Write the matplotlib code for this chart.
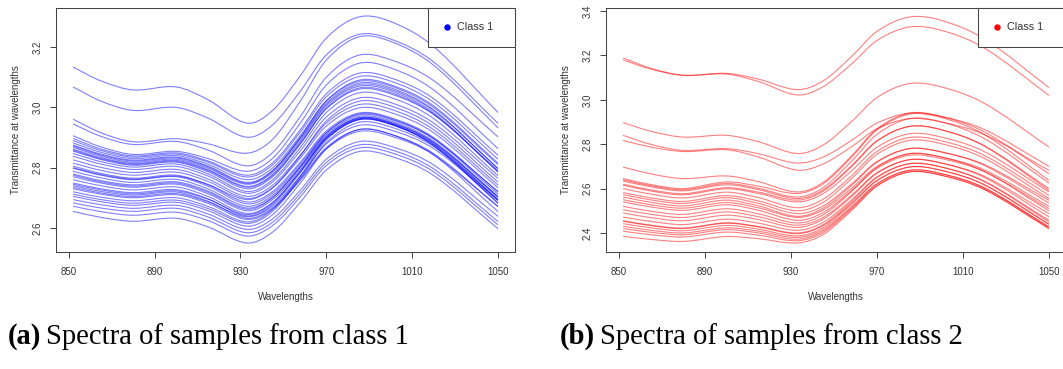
import matplotlib
matplotlib.use('Agg')
import matplotlib.pyplot as plt
from matplotlib.patches import Rectangle, PathPatch
from matplotlib.path import Path

wavelengths = [852, 865, 880, 900, 915, 933, 945, 958, 970, 985, 1000, 1020, 1050]

# class 1 spectra (left panel)
class1_spectra = [
    [3.134, 3.088, 3.058, 3.068, 3.025, 2.948, 2.990, 3.106, 3.230, 3.300, 3.285, 3.202, 2.983],
    [3.068, 3.021, 2.990, 3.000, 2.964, 2.901, 2.942, 3.055, 3.174, 3.242, 3.227, 3.151, 2.947],
    [2.961, 2.916, 2.886, 2.896, 2.879, 2.848, 2.894, 3.022, 3.157, 3.234, 3.219, 3.140, 2.932],
    [2.945, 2.904, 2.877, 2.887, 2.858, 2.806, 2.850, 2.971, 3.100, 3.173, 3.158, 3.089, 2.902],
    [2.906, 2.869, 2.844, 2.854, 2.830, 2.788, 2.831, 2.949, 3.074, 3.146, 3.131, 3.058, 2.863],
    [2.897, 2.862, 2.839, 2.849, 2.822, 2.775, 2.816, 2.927, 3.045, 3.113, 3.098, 3.029, 2.841],
    [2.890, 2.857, 2.835, 2.845, 2.818, 2.769, 2.809, 2.919, 3.035, 3.102, 3.087, 3.017, 2.828],
    [2.882, 2.851, 2.830, 2.840, 2.811, 2.760, 2.799, 2.907, 3.021, 3.086, 3.071, 3.000, 2.810],
    [2.875, 2.845, 2.825, 2.835, 2.805, 2.751, 2.791, 2.899, 3.014, 3.080, 3.065, 2.992, 2.797],
    [2.868, 2.838, 2.818, 2.828, 2.798, 2.745, 2.785, 2.894, 3.009, 3.075, 3.060, 2.989, 2.797],
    [2.862, 2.833, 2.814, 2.824, 2.793, 2.738, 2.778, 2.887, 3.004, 3.070, 3.055, 2.982, 2.786],
    [2.855, 2.827, 2.808, 2.818, 2.786, 2.730, 2.770, 2.880, 2.997, 3.064, 3.049, 2.978, 2.786],
    [2.847, 2.820, 2.802, 2.812, 2.779, 2.721, 2.760, 2.868, 2.983, 3.048, 3.033, 2.963, 2.773],
    [2.838, 2.812, 2.794, 2.804, 2.772, 2.715, 2.753, 2.857, 2.968, 3.031, 3.016, 2.948, 2.764],
    [2.826, 2.801, 2.784, 2.794, 2.762, 2.705, 2.742, 2.842, 2.948, 3.009, 2.994, 2.926, 2.742],
    [2.815, 2.791, 2.775, 2.785, 2.754, 2.698, 2.734, 2.833, 2.938, 2.998, 2.983, 2.916, 2.733],
    [2.805, 2.781, 2.765, 2.775, 2.743, 2.686, 2.721, 2.819, 2.922, 2.981, 2.966, 2.900, 2.720],
    [2.798, 2.775, 2.760, 2.770, 2.738, 2.680, 2.715, 2.813, 2.916, 2.975, 2.960, 2.896, 2.720],
    [2.788, 2.766, 2.751, 2.761, 2.729, 2.672, 2.708, 2.806, 2.910, 2.970, 2.955, 2.888, 2.704],
    [2.779, 2.757, 2.743, 2.753, 2.722, 2.666, 2.702, 2.801, 2.905, 2.965, 2.950, 2.884, 2.704],
    [2.770, 2.749, 2.735, 2.745, 2.713, 2.657, 2.694, 2.794, 2.901, 2.962, 2.947, 2.879, 2.693],
    [2.760, 2.740, 2.726, 2.736, 2.704, 2.648, 2.685, 2.788, 2.897, 2.959, 2.944, 2.877, 2.693],
    [2.749, 2.730, 2.717, 2.727, 2.696, 2.640, 2.678, 2.784, 2.895, 2.959, 2.944, 2.873, 2.682],
    [2.740, 2.721, 2.709, 2.719, 2.688, 2.632, 2.667, 2.764, 2.867, 2.926, 2.911, 2.847, 2.671],
    [2.730, 2.712, 2.700, 2.710, 2.681, 2.628, 2.663, 2.759, 2.862, 2.920, 2.905, 2.843, 2.671],
    [2.720, 2.702, 2.690, 2.700, 2.671, 2.620, 2.661, 2.773, 2.892, 2.960, 2.945, 2.874, 2.682],
    [2.712, 2.694, 2.682, 2.692, 2.664, 2.615, 2.655, 2.766, 2.883, 2.950, 2.935, 2.870, 2.693],
    [2.705, 2.687, 2.675, 2.685, 2.657, 2.606, 2.644, 2.750, 2.862, 2.926, 2.911, 2.842, 2.654],
    [2.694, 2.677, 2.665, 2.675, 2.646, 2.595, 2.630, 2.726, 2.828, 2.886, 2.871, 2.809, 2.638],
    [2.683, 2.666, 2.655, 2.665, 2.636, 2.584, 2.619, 2.715, 2.817, 2.875, 2.860, 2.796, 2.621],
    [2.672, 2.654, 2.642, 2.652, 2.624, 2.573, 2.608, 2.704, 2.807, 2.865, 2.850, 2.786, 2.610],
    [2.655, 2.635, 2.622, 2.632, 2.603, 2.550, 2.586, 2.686, 2.792, 2.853, 2.838, 2.774, 2.597],
    [2.872, 2.842, 2.822, 2.832, 2.802, 2.748, 2.789, 2.902, 3.022, 3.090, 3.075, 3.005, 2.815],
    [2.858, 2.830, 2.811, 2.821, 2.790, 2.735, 2.774, 2.881, 2.995, 3.060, 3.045, 2.976, 2.790],
    [2.775, 2.753, 2.739, 2.749, 2.718, 2.662, 2.700, 2.804, 2.915, 2.978, 2.963, 2.896, 2.712],
    [2.745, 2.726, 2.713, 2.723, 2.695, 2.644, 2.683, 2.789, 2.901, 2.965, 2.950, 2.883, 2.700],
    [2.800, 2.777, 2.762, 2.772, 2.744, 2.694, 2.733, 2.841, 2.955, 3.020, 3.005, 2.937, 2.752],
    [2.735, 2.716, 2.704, 2.714, 2.686, 2.637, 2.673, 2.773, 2.879, 2.940, 2.925, 2.863, 2.690],
]

# class 2 spectra (right panel)
class2_spectra = [
    [3.189, 3.142, 3.111, 3.119, 3.093, 3.046, 3.085, 3.193, 3.308, 3.373, 3.358, 3.274, 3.055],
    [3.180, 3.138, 3.110, 3.116, 3.082, 3.022, 3.059, 3.160, 3.267, 3.328, 3.313, 3.233, 3.020],
    [2.897, 2.858, 2.832, 2.840, 2.811, 2.758, 2.796, 2.900, 3.010, 3.073, 3.058, 2.984, 2.787],
    [2.840, 2.799, 2.772, 2.780, 2.757, 2.715, 2.742, 2.816, 2.895, 2.940, 2.925, 2.866, 2.700],
    [2.817, 2.787, 2.767, 2.775, 2.742, 2.683, 2.711, 2.787, 2.869, 2.915, 2.900, 2.843, 2.682],
    [2.697, 2.666, 2.645, 2.657, 2.631, 2.585, 2.628, 2.745, 2.869, 2.940, 2.925, 2.855, 2.667],
    [2.645, 2.618, 2.600, 2.630, 2.611, 2.578, 2.621, 2.739, 2.864, 2.935, 2.920, 2.843, 2.637],
    [2.640, 2.613, 2.595, 2.623, 2.601, 2.562, 2.604, 2.721, 2.844, 2.915, 2.900, 2.825, 2.625],
    [2.634, 2.608, 2.590, 2.617, 2.595, 2.555, 2.594, 2.701, 2.815, 2.880, 2.865, 2.791, 2.592],
    [2.615, 2.589, 2.572, 2.599, 2.578, 2.540, 2.577, 2.678, 2.786, 2.847, 2.832, 2.766, 2.585],
    [2.600, 2.575, 2.558, 2.584, 2.559, 2.514, 2.552, 2.656, 2.767, 2.830, 2.815, 2.749, 2.570],
    [2.582, 2.558, 2.542, 2.568, 2.544, 2.500, 2.538, 2.643, 2.754, 2.817, 2.802, 2.736, 2.555],
    [2.573, 2.549, 2.533, 2.559, 2.533, 2.487, 2.522, 2.619, 2.721, 2.780, 2.765, 2.708, 2.547],
    [2.562, 2.538, 2.522, 2.548, 2.522, 2.475, 2.512, 2.612, 2.719, 2.780, 2.765, 2.704, 2.535],
    [2.550, 2.527, 2.512, 2.537, 2.513, 2.470, 2.504, 2.599, 2.700, 2.757, 2.742, 2.684, 2.520],
    [2.540, 2.517, 2.502, 2.527, 2.502, 2.457, 2.492, 2.589, 2.691, 2.750, 2.735, 2.676, 2.510],
    [2.520, 2.498, 2.484, 2.509, 2.486, 2.445, 2.482, 2.585, 2.695, 2.757, 2.742, 2.677, 2.500],
    [2.505, 2.484, 2.470, 2.495, 2.473, 2.435, 2.470, 2.568, 2.671, 2.730, 2.715, 2.655, 2.487],
    [2.490, 2.469, 2.455, 2.480, 2.460, 2.425, 2.462, 2.562, 2.669, 2.730, 2.715, 2.650, 2.472],
    [2.472, 2.452, 2.438, 2.462, 2.444, 2.412, 2.448, 2.547, 2.652, 2.712, 2.697, 2.633, 2.457],
    [2.453, 2.433, 2.420, 2.444, 2.427, 2.397, 2.433, 2.532, 2.637, 2.697, 2.682, 2.617, 2.439],
    [2.442, 2.423, 2.410, 2.434, 2.417, 2.387, 2.424, 2.527, 2.635, 2.697, 2.682, 2.617, 2.439],
    [2.430, 2.412, 2.400, 2.423, 2.408, 2.380, 2.416, 2.516, 2.622, 2.682, 2.667, 2.603, 2.427],
    [2.420, 2.403, 2.392, 2.415, 2.400, 2.372, 2.409, 2.512, 2.620, 2.682, 2.667, 2.603, 2.427],
    [2.408, 2.392, 2.382, 2.404, 2.390, 2.365, 2.402, 2.505, 2.613, 2.675, 2.660, 2.596, 2.420],
    [2.385, 2.371, 2.362, 2.384, 2.374, 2.355, 2.393, 2.499, 2.611, 2.675, 2.660, 2.596, 2.420],
    [2.620, 2.594, 2.577, 2.604, 2.584, 2.548, 2.588, 2.697, 2.814, 2.880, 2.865, 2.793, 2.600],
    [2.455, 2.435, 2.422, 2.446, 2.429, 2.400, 2.437, 2.540, 2.650, 2.712, 2.697, 2.631, 2.450],
]

x_ticks = [850, 890, 930, 970, 1010, 1050]
class1_yticks = [2.6, 2.8, 3.0, 3.2]
class2_yticks = [2.4, 2.6, 2.8, 3.0, 3.2, 3.4]
legend_label = 'Class 1'
captions = [('(a)', 'Spectra of samples from class 1'),
            ('(b)', 'Spectra of samples from class 2')]

W, H = 1063, 369
AXIS_GREY = '#444444'
TEXT_GREY = '#333333'

plt.rcParams['font.family'] = ['Liberation Sans', 'DejaVu Sans']

fig = plt.figure(figsize=(W / 100, H / 100), dpi=100)
ax1 = fig.add_axes([56 / W, 117 / H, 459 / W, 244 / H])
ax2 = fig.add_axes([606 / W, 117 / H, 460 / W, 244 / H])  # runs off the page edge


def smooth_path(x, y):
    # smooth curve through the read points (cubic Hermite as Bezier pieces)
    n = len(x)
    slopes = []
    for i in range(n):
        a, b = max(i - 1, 0), min(i + 1, n - 1)
        slopes.append((y[b] - y[a]) / (x[b] - x[a]))
    verts = [(x[0], y[0])]
    codes = [Path.MOVETO]
    for i in range(n - 1):
        h = x[i + 1] - x[i]
        verts += [(x[i] + h / 3, y[i] + slopes[i] * h / 3),
                  (x[i + 1] - h / 3, y[i + 1] - slopes[i + 1] * h / 3),
                  (x[i + 1], y[i + 1])]
        codes += [Path.CURVE4] * 3
    return Path(verts, codes)


def draw_panel(ax, spectra, color, yticks):
    for spec in spectra:
        ax.add_patch(PathPatch(smooth_path(wavelengths, spec), fill=False,
                               edgecolor=color, alpha=0.5, lw=0.8))
    # R style axis range: data range plus 4% on each side
    lo = min(min(s) for s in spectra)
    hi = max(max(s) for s in spectra)
    xpad = 0.04 * (wavelengths[-1] - wavelengths[0])
    ax.set_xlim(wavelengths[0] - xpad, wavelengths[-1] + xpad)
    ax.set_ylim(lo - 0.04 * (hi - lo), hi + 0.04 * (hi - lo))
    ax.set_xticks(x_ticks)
    ax.set_yticks(yticks)
    ax.set_xticklabels([str(t) for t in x_ticks])
    ax.set_yticklabels(['%.1f' % t for t in yticks], rotation=90, va='center')
    ax.tick_params(direction='out', length=4, width=0.7, color=AXIS_GREY,
                   labelsize=7, labelcolor=TEXT_GREY)
    ax.tick_params(axis='x', pad=6.5)
    ax.tick_params(axis='y', pad=5.6)
    for sp in ax.spines.values():
        sp.set_color(AXIS_GREY)
        sp.set_linewidth(0.75)

    axw = ax.get_position().width * W  # axes width in pixels
    ax.set_xlabel('Wavelengths', fontsize=7, color=TEXT_GREY)
    ax.set_ylabel('Transmittance at wavelengths', fontsize=7, color=TEXT_GREY)
    ax.xaxis.set_label_coords(0.5, -0.162)
    ax.yaxis.set_label_coords(-35 / axw, 0.5)

    # legend box in the top right corner, drawn the way R does it
    x0, bw, bh = 372 / axw, 87 / axw, 39 / 244
    ax.add_patch(Rectangle((x0, 1 - bh), bw, bh, transform=ax.transAxes,
                           facecolor='white', edgecolor=AXIS_GREY, lw=0.75,
                           zorder=5, clip_on=False))
    ax.plot([x0 + 19 / axw], [1 - 19.5 / 244], 'o', color=color, ms=3.6,
            transform=ax.transAxes, zorder=6, clip_on=False)
    ax.text(x0 + 29 / axw, 1 - 19.5 / 244, legend_label, transform=ax.transAxes,
            fontsize=7.8, color=TEXT_GREY, va='center', ha='left', zorder=6)


draw_panel(ax1, class1_spectra, 'blue', class1_yticks)
draw_panel(ax2, class2_spectra, 'red', class2_yticks)

# sub-figure captions: bold tag followed by plain text
fig.canvas.draw()
renderer = fig.canvas.get_renderer()
cap_y = 1 - 344 / H
for (tag, text), x0 in zip(captions, [8 / W, 560 / W]):
    t = fig.text(x0, cap_y, tag, fontsize=20.6, fontweight='bold',
                 family=['Liberation Serif', 'DejaVu Serif'], va='baseline')
    bb = t.get_window_extent(renderer)
    fig.text(bb.x1 / W + 5 / W, cap_y, text, fontsize=20.6,
             family=['Liberation Serif', 'DejaVu Serif'], va='baseline')

fig.savefig('out.png', dpi=100)
